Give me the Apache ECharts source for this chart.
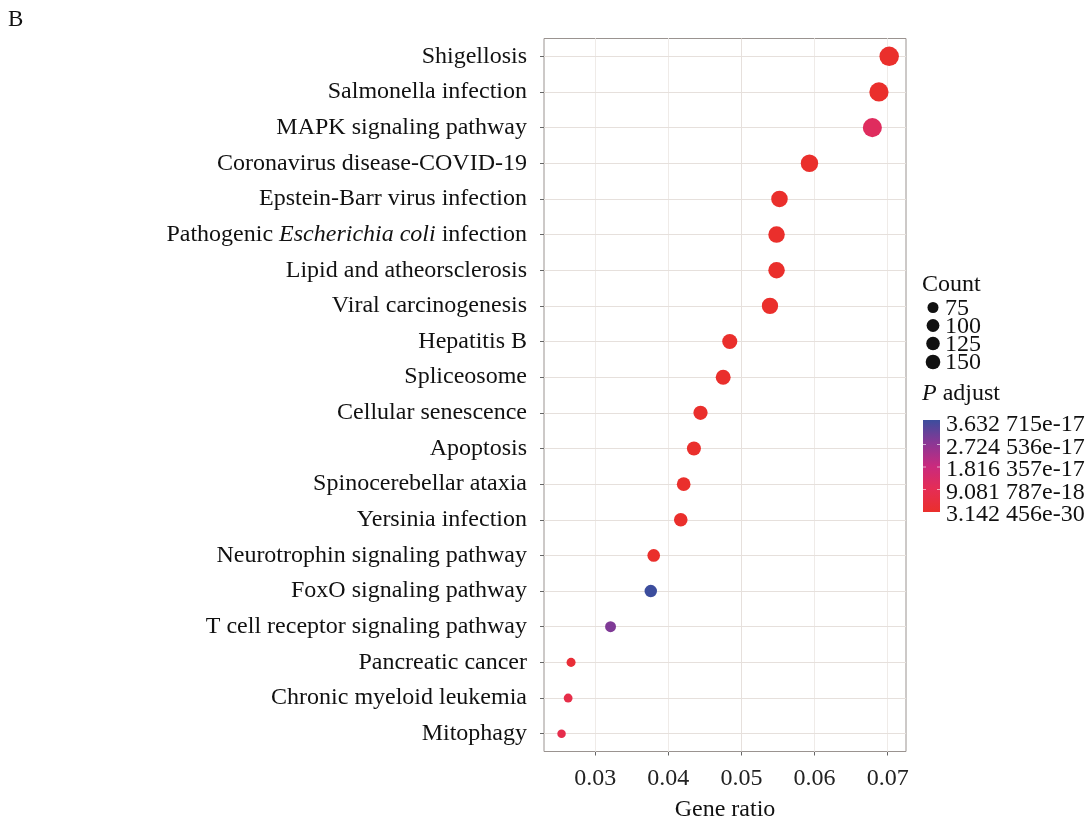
<!DOCTYPE html>
<html>
<head>
<meta charset="utf-8">
<script src="https://cdn.jsdelivr.net/npm/echarts@6/dist/echarts.min.js"></script>
<style>html,body{margin:0;padding:0;background:#fff;}#c{width:1092px;height:821px;}</style>
</head>
<body>
<div id="c"></div>
<script>
const categories = ['Shigellosis','Salmonella infection','MAPK signaling pathway','Coronavirus disease-COVID-19','Epstein-Barr virus infection','Pathogenic Escherichia coli infection','Lipid and atheorsclerosis','Viral carcinogenesis','Hepatitis B','Spliceosome','Cellular senescence','Apoptosis','Spinocerebellar ataxia','Yersinia infection','Neurotrophin signaling pathway','FoxO signaling pathway','T cell receptor signaling pathway','Pancreatic cancer','Chronic myeloid leukemia','Mitophagy'];
const geneRatio = [0.0702,0.0688,0.0679,0.0593,0.0552,0.0548,0.0548,0.0539,0.0484,0.0475,0.0444,0.0435,0.0421,0.0417,0.0380,0.0376,0.0321,0.0267,0.0263,0.0254];
const counts = [153,150,148,129,120,119,119,117,105,103,97,95,92,91,83,82,70,58,57,55];
const pAdjust = [2e-20,5e-20,1.1e-17,1e-22,1e-21,3e-21,2e-21,4e-21,1e-21,1e-25,2e-21,1e-21,3e-21,5e-21,2e-20,3.632715e-17,2.85e-17,2.5e-18,6.5e-18,7e-18];
const xTicks = [0.03,0.04,0.05,0.06,0.07];
const xMinorGrid = [0.025,0.035,0.045,0.055,0.065];
const countBreaks = [75,100,125,150];
const pBreakLabels = ['3.632 715e-17','2.724 536e-17','1.816 357e-17','9.081 787e-18','3.142 456e-30'];
const pMin = 3.142456e-30, pMax = 3.632715e-17;

const colorStops = ['#ea2f2c','#e52d55','#c92a7e','#8a3795','#3c4d9d'];
const FONT = '"Liberation Serif","DejaVu Serif",serif';
const FS = 24;

const data = categories.map((c,i)=>[geneRatio[i], c, pAdjust[i], counts[i]]);
const sizeOf = c => Math.sqrt(Math.max(0, 3.13*(c-32)));

const chart = echarts.init(document.getElementById('c'));

// legend graphics
const g = [];
g.push({type:'text', x:8, y:20, style:{text:'B', font:'23px '+FONT, fill:'#111', verticalAlign:'middle'}});
g.push({type:'text', x:922, y:285, style:{text:'Count', font:FS+'px '+FONT, fill:'#111', verticalAlign:'middle'}});
const legendY = [307.5, 325.5, 343.5, 362];
const legendD = [11, 12.8, 13.6, 14.6];
countBreaks.forEach((v,i)=>{
  g.push({type:'circle', shape:{cx:933, cy:legendY[i], r:legendD[i]/2}, style:{fill:'#111'}});
  g.push({type:'text', x:945, y:legendY[i]+1, style:{text:String(v), font:FS+'px '+FONT, fill:'#111', verticalAlign:'middle'}});
});
g.push({type:'text', x:922, y:394, style:{text:'{i|P} adjust', font:FS+'px '+FONT, fill:'#111', verticalAlign:'middle', rich:{i:{fontStyle:'italic', fontSize:FS, fontFamily:FONT}}}});
const barTop = 420, barH = 92;
g.push({type:'rect', shape:{x:923, y:barTop, width:17, height:barH},
  style:{fill:new echarts.graphic.LinearGradient(0,1,0,0, colorStops.map((c,i)=>({offset:i/(colorStops.length-1), color:c})))}});
pBreakLabels.forEach((t,i)=>{
  const y = 425 + i*22.5;
  if (i>0 && i<4) {
    g.push({type:'line', shape:{x1:923, y1:y-3, x2:926, y2:y-3}, style:{stroke:'rgba(255,255,255,0.6)', lineWidth:1}});
    g.push({type:'line', shape:{x1:937, y1:y-3, x2:940, y2:y-3}, style:{stroke:'rgba(255,255,255,0.6)', lineWidth:1}});
  }
  g.push({type:'text', x:946, y:y, style:{text:t, font:FS+'px '+FONT, fill:'#111', verticalAlign:'middle'}});
});

const gridMajor = '#e6e0dc', gridMinor = '#efebe8';
const vLines = xTicks.map(v=>({xAxis:v, lineStyle:{color:gridMajor}})).concat(xMinorGrid.map(v=>({xAxis:v, lineStyle:{color:gridMinor}})));
const hLines = categories.map(c=>({yAxis:c, lineStyle:{color:gridMajor}}));

chart.setOption({
  backgroundColor:'#fff',
  animation:false,
  textStyle:{fontFamily:FONT},
  grid:{left:544, right:186, top:38.5, height:713, outerBoundsMode:'none', containLabel:false,
    show:true, borderColor:'#9a9390', borderWidth:1, backgroundColor:'#fff'},
  xAxis:{
    type:'value', min:0.023, max:0.0725,
    name:'Gene ratio', nameLocation:'middle', nameGap:46,
    nameTextStyle:{fontSize:FS, color:'#111', fontFamily:FONT},
    axisLine:{show:false},
    axisTick:{show:true, length:4, lineStyle:{color:'#666'}, customValues:xTicks},
    axisLabel:{fontSize:FS, color:'#222', margin:15, fontFamily:FONT, customValues:xTicks, formatter:v=>v.toFixed(2)},
    splitLine:{show:false}
  },
  yAxis:{
    type:'category', data:categories, inverse:true,
    axisLine:{show:false},
    axisTick:{show:true, length:4, alignWithLabel:true, lineStyle:{color:'#666'}},
    axisLabel:{fontSize:FS, color:'#111', margin:17, fontFamily:FONT,
      formatter:v=> v==='Pathogenic Escherichia coli infection' ? '{n|Pathogenic }{i|Escherichia coli}{n| infection}' : v,
      rich:{n:{fontSize:FS, fontFamily:FONT, color:'#111'}, i:{fontSize:FS, fontFamily:FONT, fontStyle:'italic', color:'#111'}}},
    splitLine:{show:false}
  },
  visualMap:{
    show:false, type:'continuous', dimension:2, seriesIndex:1,
    min:pMin, max:pMax, inRange:{color:colorStops}
  },
  graphic:g,
  series:[
    {type:'scatter', data:[], z:1, silent:true,
      markLine:{silent:true, symbol:'none', label:{show:false}, animation:false,
        lineStyle:{width:1, type:'solid'}, data:vLines.concat(hLines)}},
    {type:'scatter', z:5, data:data, encode:{x:0, y:1},
      symbolSize:v=>sizeOf(v[3]), itemStyle:{opacity:1}}
  ]
});
</script>
</body>
</html>
